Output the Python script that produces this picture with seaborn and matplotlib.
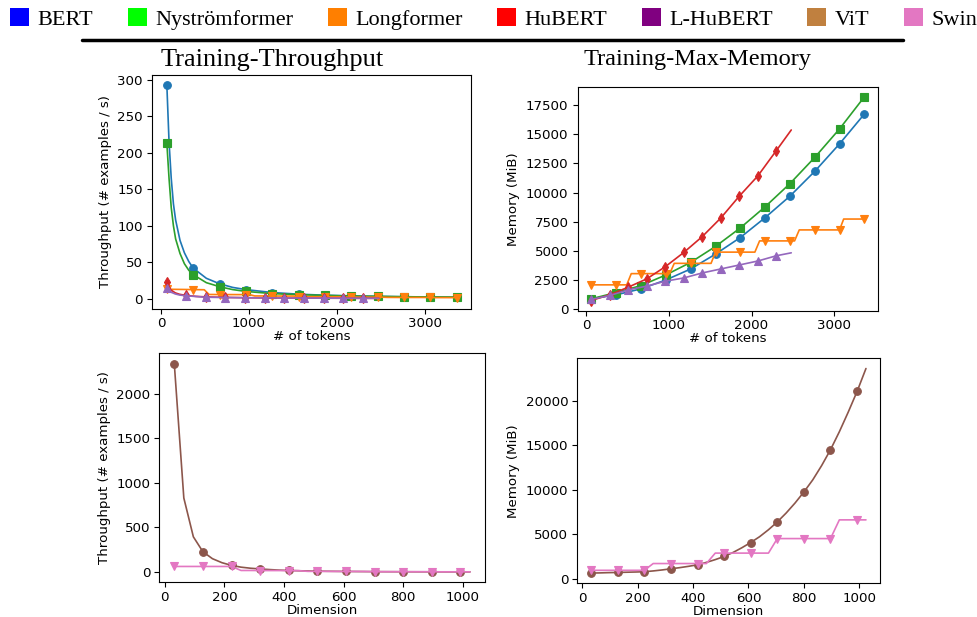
import numpy as np
import seaborn as sns
import matplotlib.pyplot as plt
from matplotlib.patches import Patch
from matplotlib.lines import Line2D
from matplotlib.ticker import MultipleLocator

# text-model sequence lengths
tok_tp = [64, 89, 114, 139, 164, 214, 264, 314, 364, 514, 664, 814, 964,
          1264, 1564, 1864, 2164, 2464, 2764, 3064, 3364]
tok_marks = [64, 364, 664, 964, 1264, 1564, 1864, 2164, 2464, 2764, 3064, 3364]

bert_tp = [293, 215, 165, 130, 108, 80, 63, 51, 42, 28, 20.5, 15.5, 12.5,
           8.5, 6.2, 4.8, 3.9, 3.2, 2.7, 2.3, 2.0]
nys_tp = [213, 165, 125, 100, 82, 62, 48, 39, 33, 22, 16.5, 12.5, 10,
          7, 5.5, 4.5, 3.7, 3.2, 2.7, 2.4, 2.2]
bert_mem = [909, 1250, 1760, 2520, 3460, 4730, 6150, 7850, 9690, 11810, 14160, 16710]
nys_mem = [909, 1445, 2040, 2950, 4025, 5385, 6970, 8780, 10760, 13000, 15440, 18180]

long_tok = [64, 364, 490, 545, 664, 964, 1010, 1065, 1264, 1510, 1564, 1864,
            2040, 2097, 2164, 2464, 2520, 2577, 2764, 3064, 3114, 3364]
long_mem = [2100, 2100, 2100, 3060, 3060, 3060, 3060, 3940, 3940, 3940, 4900, 4900,
            4900, 5860, 5860, 5860, 5860, 6800, 6800, 6800, 7730, 7730]
long_tp = [13, 12.5, 12.3, 5.8, 5.7, 5.6, 5.5, 3.8, 3.7, 3.6, 2.8, 2.7,
           2.7, 2.2, 2.2, 2.1, 2.1, 1.8, 1.7, 1.7, 1.5, 1.5]

# speech models (frames)
hub_tok = [60, 284, 508, 732, 956, 1180, 1404, 1628, 1852, 2076, 2300, 2480]
hub_marks = [60, 284, 508, 732, 956, 1180, 1404, 1628, 1852, 2076, 2300]
hub_mem = [760, 1250, 1900, 2610, 3650, 4870, 6230, 7820, 9690, 11420, 13590, 15350]
lhub_mem = [850, 1190, 1670, 1990, 2410, 2690, 3120, 3460, 3800, 4140, 4590, 4840]
hub_tok_tp = [60, 110, 160, 210, 284, 396, 508, 732, 956, 1180, 1404, 1628,
              1852, 2076, 2300, 2480]
hub_tp = [23, 12, 8, 6, 4.5, 3.2, 2.5, 1.8, 1.4, 1.1, 0.9, 0.8, 0.7, 0.6, 0.5, 0.5]
lhub_tp = [14.6, 9, 6.5, 5, 4, 3, 2, 1.6, 1.3, 1.1, 1, 0.9, 0.8, 0.7, 0.6, 0.6]

# vision models (image dimension)
dims = [32, 64, 96, 128, 160, 192, 224, 256, 288, 320, 352, 384, 416, 448, 480, 512,
        544, 576, 608, 640, 672, 704, 736, 768, 800, 832, 864, 896, 928, 960, 992, 1024]
dim_marks = [32, 128, 224, 320, 416, 512, 608, 704, 800, 896, 992]
vit_tp = [2335, 830, 395, 228, 150, 105, 75, 55, 43, 35, 28, 22, 18, 15, 12.5, 10.5,
          9, 8, 7, 6.2, 5.5, 4.9, 4.4, 4, 3.6, 3.3, 3, 2.8, 2.6, 2.4, 2.2, 2.1]
swin_tp = [63, 63, 63, 63, 63, 63, 63, 18, 18, 17, 17, 17, 16, 16, 8, 8,
           8, 7.5, 7.5, 7.5, 7, 4.5, 4.5, 4.5, 4.2, 4.2, 4.2, 4, 3, 3, 3, 2.8]
vit_mem = [640, 660, 690, 710, 735, 760, 790, 880, 990, 1120, 1250, 1400, 1570, 1840, 2150, 2500,
           2950, 3480, 4070, 4720, 5500, 6380, 7380, 8500, 9740, 11100, 12700, 14480, 16500, 18700,
           21020, 23590]
swin_mem = [950, 950, 950, 950, 950, 950, 950, 1710, 1710, 1710, 1710, 1710, 1710, 1710, 2880, 2880,
            2880, 2880, 2880, 2880, 2880, 4510, 4510, 4510, 4510, 4510, 4510, 4510, 6610, 6610,
            6610, 6610]

models = ['BERT', 'Nyströmformer', 'Longformer', 'HuBERT', 'L-HuBERT', 'ViT', 'Swin']
legend_colors = ['#0000ff', '#00ff00', '#ff7f00', '#ff0000', '#800080', '#c0803f', '#e377c2']
line_colors = ['#1f77b4', '#2ca02c', '#ff7f0e', '#d62728', '#9467bd', '#8c564b', '#e377c2']

sns.set_style('ticks')
plt.rcParams['font.family'] = ['DejaVu Sans']
plt.rcParams.update({
    'font.size': 9.6, 'axes.labelsize': 9.6, 'xtick.labelsize': 9.6, 'ytick.labelsize': 9.6,
    'xtick.major.size': 3.5, 'ytick.major.size': 3.5,
    'xtick.major.pad': 2.5, 'ytick.major.pad': 3,
    'axes.edgecolor': 'black', 'axes.linewidth': 0.8,
    'xtick.color': 'black', 'ytick.color': 'black', 'text.color': 'black',
    'axes.labelcolor': 'black',
})

W, H = 978, 617
fig = plt.figure(figsize=(W / 100, H / 100), dpi=100)


def box(l, r, t, b):
    return [l / W, 1 - b / H, (r - l) / W, (b - t) / H]


ax_tl = fig.add_axes(box(152, 471, 74.5, 309))
ax_tr = fig.add_axes(box(577.5, 878, 86.7, 310.7))
ax_bl = fig.add_axes(box(159.5, 484.8, 353.3, 582.3))
ax_br = fig.add_axes(box(577.4, 879.7, 358.3, 583.3))


def draw(ax, x, y, color, marker, marks, ms=5.5):
    idx = np.flatnonzero(np.isin(x, marks)).tolist()
    sns.lineplot(x=x, y=y, ax=ax, color=color, marker=marker, markevery=idx,
                 markersize=ms, markeredgecolor=color, markeredgewidth=0.8,
                 linewidth=1.2, estimator=None, sort=False)


draw(ax_tl, tok_tp, bert_tp, line_colors[0], 'o', tok_marks)
draw(ax_tl, tok_tp, nys_tp, line_colors[1], 's', tok_marks)
draw(ax_tl, long_tok, long_tp, line_colors[2], 'v', tok_marks)
draw(ax_tl, hub_tok_tp, hub_tp, line_colors[3], 'd', hub_marks)
draw(ax_tl, hub_tok_tp, lhub_tp, line_colors[4], '^', hub_marks)

draw(ax_tr, tok_marks, bert_mem, line_colors[0], 'o', tok_marks)
draw(ax_tr, tok_marks, nys_mem, line_colors[1], 's', tok_marks)
draw(ax_tr, long_tok, long_mem, line_colors[2], 'v', tok_marks)
draw(ax_tr, hub_tok, hub_mem, line_colors[3], 'd', hub_marks)
draw(ax_tr, hub_tok, lhub_mem, line_colors[4], '^', hub_marks)

draw(ax_bl, dims, vit_tp, line_colors[5], 'o', dim_marks)
draw(ax_bl, dims, swin_tp, line_colors[6], 'v', dim_marks)
draw(ax_br, dims, vit_mem, line_colors[5], 'o', dim_marks)
draw(ax_br, dims, swin_mem, line_colors[6], 'v', dim_marks)

for ax in (ax_tl, ax_tr):
    ax.xaxis.set_major_locator(MultipleLocator(1000))
for ax in (ax_tl, ax_bl):
    ax.set_ylabel('Throughput (# examples / s)')
for ax in (ax_tr, ax_br):
    ax.set_ylabel('Memory (MiB)')
for ax in (ax_tl, ax_tr):
    ax.set_xlabel('# of tokens', labelpad=0)
for ax in (ax_bl, ax_br):
    ax.set_xlabel('Dimension', labelpad=0)

serif = {'family': 'Liberation Serif'}
handles = [Patch(facecolor=c, edgecolor='none') for c in legend_colors]
fig.legend(handles, models, loc='upper left', bbox_to_anchor=(10 / W, 1 - 8 / H), ncol=7,
           frameon=False, prop={**serif, 'size': 16}, handlelength=0.85, handleheight=0.85,
           handletextpad=0.4, columnspacing=1.54, borderpad=0, borderaxespad=0)
fig.add_artist(Line2D([82 / W, 903 / W], [1 - 40 / H, 1 - 40 / H], color='black', lw=2.5,
                      transform=fig.transFigure))
fig.text(272 / W, 1 - 60 / H, 'Training-Throughput', ha='center', va='center',
         fontsize=19, **serif)
fig.text(697 / W, 1 - 60 / H, 'Training-Max-Memory', ha='center', va='center',
         fontsize=17.6, **serif)

fig.savefig('out.png', dpi=100)
